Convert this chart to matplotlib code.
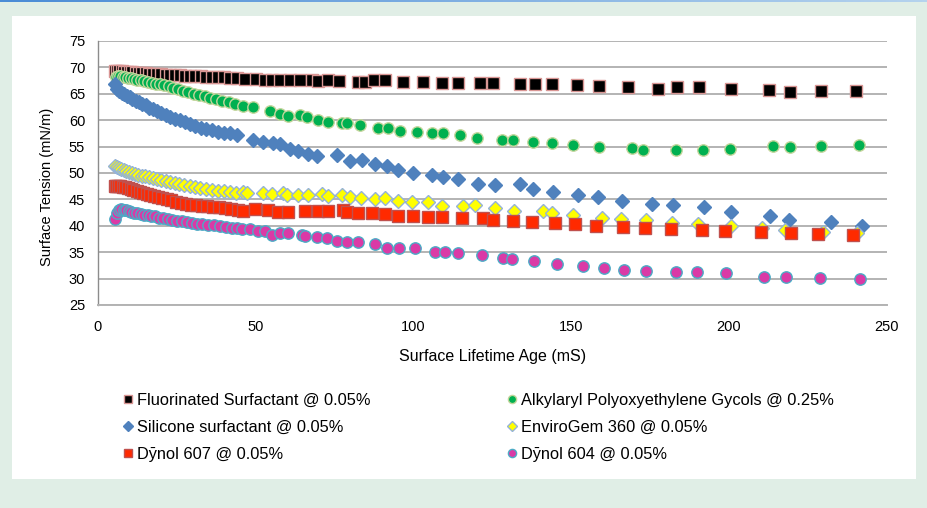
import numpy as np
import matplotlib
matplotlib.use('Agg')
import matplotlib.pyplot as plt
from matplotlib.patches import Rectangle
from matplotlib.colors import LinearSegmentedColormap

plt.rcParams['font.family'] = ['Liberation Sans', 'DejaVu Sans']

# Fluorinated Surfactant @ 0.05%
fluor_x = [5.6, 6.2, 6.9, 7.6, 8.4, 9.2, 10.1, 11.0, 12.0, 13.0, 14.1, 15.2, 16.4, 17.6, 18.9,
           20.2, 21.6, 23.0, 24.5, 26.0, 27.6, 29.2, 30.9, 32.6, 34.4, 36.2, 38.1, 40.0, 42.0, 44.0,
           46.7, 50.3, 53.0, 55.1, 57.8, 60.9, 64.1, 67.8, 69.9, 73.1, 76.3, 82.6, 84.7, 87.4, 91.1,
           96.8, 103.2, 109.0, 114.3, 121.2, 125.4, 133.8, 138.6, 143.9, 151.8,
           158.8, 168.1, 177.5, 183.5, 190.4, 200.7, 212.8, 219.3, 229.1, 240.2]
fluor_y = [69.4, 69.4, 69.3, 69.3, 69.2, 69.2, 69.1, 69.1, 69.0, 69.0, 68.9, 68.9, 68.8, 68.8, 68.7,
           68.7, 68.6, 68.6, 68.5, 68.5, 68.4, 68.4, 68.3, 68.3, 68.2, 68.2, 68.1, 68.1, 68.0, 67.9,
           67.8, 67.8, 67.7, 67.7, 67.7, 67.6, 67.6, 67.6, 67.5, 67.6, 67.5, 67.15, 67.15, 67.6, 67.6,
           67.3, 67.15, 66.97, 66.97, 66.97, 67.1, 66.8, 66.8, 66.85, 66.65,
           66.46, 66.27, 65.95, 66.27, 66.2, 65.95, 65.64, 65.38, 65.57, 65.51]

# Alkylaryl Polyoxyethylene Gycols @ 0.25%
alkyl_x = [5.8, 6.4, 7.1, 7.9, 8.7, 9.6, 10.5, 11.5, 12.5, 13.6, 14.7, 15.9, 17.1, 18.4, 19.7,
           21.1, 22.5, 24.0, 25.5, 27.1, 28.7, 30.4, 32.1, 33.9, 35.7, 37.6, 39.5, 41.5, 43.5,
           46.1, 49.3, 54.6, 57.8, 60.4, 64.1, 66.2, 69.9, 73.1, 77.3, 78.9, 83.1, 88.9, 92.1, 95.8,
           101.1, 105.8, 109.5, 114.8, 120.1, 128.0, 131.7, 138.0, 143.9, 150.7,
           158.8, 169.3, 172.9, 183.2, 191.9, 200.4, 214.0, 219.5, 229.1, 241.1]
alkyl_y = [68.2, 68.3, 68.3, 68.2, 68.1, 68.0, 67.9, 67.8, 67.7, 67.6, 67.4, 67.3, 67.1, 66.9, 66.8,
           66.6, 66.4, 66.1, 65.9, 65.6, 65.3, 65.0, 64.8, 64.5, 64.2, 64.0, 63.7, 63.4, 63.1,
           62.73, 62.54, 61.72, 61.1, 60.78, 60.97, 60.64, 60.02, 59.7, 59.51, 59.51, 59.07, 58.56, 58.56, 57.94,
           57.69, 57.5, 57.5, 57.18, 56.55, 56.23, 56.23, 55.91, 55.61, 55.28,
           54.85, 54.72, 54.4, 54.34, 54.28, 54.58, 55.04, 54.9, 55.04, 55.23]

# Silicone surfactant @ 0.05%
silic_x = [5.6, 6.2, 6.9, 7.6, 8.4, 9.2, 10.1, 11.0, 12.0, 13.0, 14.1, 15.2, 16.4, 17.6, 18.9,
           20.2, 21.6, 23.0, 24.5, 26.0, 27.6, 29.2, 30.9, 32.6, 34.4, 36.2, 38.1, 40.0, 42.0, 44.0,
           49.3, 52.5, 55.6, 57.8, 60.9, 63.6, 66.7, 69.4, 75.7, 79.9, 83.7, 87.9, 91.6, 95.2,
           100.0, 105.8, 109.5, 114.3, 120.6, 125.9, 133.8, 138.0, 144.4, 152.1,
           158.6, 166.1, 175.6, 182.2, 192.2, 200.6, 213.0, 219.0, 232.3, 242.1]
silic_y = [66.8, 66.0, 65.5, 65.2, 64.9, 64.6, 64.3, 64.0, 63.7, 63.4, 63.1, 62.8, 62.4, 62.1, 61.7,
           61.4, 61.0, 60.7, 60.3, 60.0, 59.6, 59.2, 58.9, 58.6, 58.3, 58.1, 57.8, 57.6, 57.5, 57.2,
           56.23, 55.8, 55.6, 55.4, 54.53, 54.15, 53.52, 53.2, 53.39, 52.25, 52.4, 51.75, 51.3, 50.55,
           50.04, 49.6, 49.17, 48.79, 47.9, 47.71, 47.9, 46.89, 46.44, 45.81,
           45.44, 44.73, 44.1, 43.86, 43.6, 42.65, 41.9, 41.14, 40.64, 39.89]

# EnviroGem 360 @ 0.05%
envi_x = [5.5, 6.1, 6.8, 7.5, 8.3, 9.1, 10.0, 10.9, 11.9, 12.9, 14.0, 15.1, 16.3, 17.5, 18.8,
          20.1, 21.5, 22.9, 24.4, 25.9, 27.5, 29.1, 30.8, 32.5, 34.3, 36.1, 38.0, 39.9, 41.9, 43.9,
          46.1, 47.2, 52.5, 55.1, 58.8, 59.9, 63.6, 66.7, 71.0, 73.1, 77.3, 79.9, 83.3, 87.9, 91.0,
          95.2, 99.5, 104.8, 109.0, 115.8, 119.5, 125.9, 131.9, 141.2, 143.9, 150.7,
          159.9, 165.7, 173.7, 182.0, 190.3, 200.8, 210.4, 217.8, 229.9, 240.5]
envi_y = [51.3, 51.1, 50.9, 50.7, 50.5, 50.4, 50.2, 50.0, 49.9, 49.7, 49.5, 49.4, 49.2, 49.1, 48.9,
          48.7, 48.5, 48.3, 48.1, 47.9, 47.7, 47.5, 47.3, 47.1, 46.9, 46.8, 46.6, 46.5, 46.4, 46.3,
          46.32, 46.13, 46.25, 46.0, 46.13, 45.87, 45.87, 45.76, 45.95, 45.68, 45.76, 45.49, 45.25, 45.0, 45.19,
          44.68, 44.55, 44.49, 43.79, 43.79, 43.92, 43.41, 42.84, 42.78, 42.34, 42.02,
          41.52, 41.27, 41.08, 40.45, 40.27, 39.89, 39.62, 39.19, 38.86, 38.56]

# Dynol 607 @ 0.05%
d607_x = [5.4, 5.9, 6.5, 7.2, 7.9, 8.7, 9.5, 10.4, 11.3, 12.3, 13.3, 14.4, 15.5, 16.7, 17.9,
          19.2, 20.5, 21.9, 23.3, 24.8, 26.3, 27.9, 29.5, 31.2, 32.9, 34.7, 36.5, 38.4, 40.3, 42.3, 44.3,
          46.1, 49.8, 54.1, 57.2, 60.4, 65.7, 69.9, 73.1, 77.8, 78.9, 82.6, 86.8, 91.0, 95.2,
          100.0, 104.8, 109.0, 115.3, 122.2, 125.4, 131.7, 137.5, 144.9, 151.2,
          157.8, 166.4, 173.3, 181.7, 191.5, 198.8, 210.2, 219.6, 228.3, 239.4]
d607_y = [47.6, 47.6, 47.5, 47.5, 47.4, 47.3, 47.2, 47.0, 46.8, 46.6, 46.4, 46.2, 46.0, 45.8, 45.6,
          45.4, 45.2, 45.0, 44.8, 44.6, 44.4, 44.2, 44.0, 43.9, 43.8, 43.7, 43.6, 43.5, 43.4, 43.2, 43.0,
          42.84, 43.11, 42.97, 42.65, 42.65, 42.84, 42.78, 42.78, 42.97, 42.54, 42.35, 42.35, 42.22, 41.84,
          41.84, 41.7, 41.59, 41.4, 41.4, 41.08, 40.89, 40.76, 40.45, 40.27,
          39.94, 39.75, 39.62, 39.43, 39.19, 39.05, 38.86, 38.67, 38.37, 38.24]

# Dynol 604 @ 0.05%
d604_x = [5.6, 6.2, 6.8, 7.5, 8.2, 9.0, 9.8, 10.7, 11.6, 12.6, 13.6, 14.7, 15.8, 17.0, 18.2,
          19.5, 20.8, 22.2, 23.6, 25.1, 26.6, 28.2, 29.8, 31.5, 33.2, 35.0, 36.8, 38.7, 40.6, 42.6, 44.0,
          45.6, 48.3, 50.9, 53.0, 55.1, 57.8, 60.4, 64.6, 65.7, 69.4, 72.6, 75.7, 78.9, 82.6, 87.9,
          91.6, 95.6, 100.5, 106.9, 110.0, 114.3, 121.7, 128.5, 131.2, 138.2, 145.4, 153.9,
          160.4, 166.8, 173.7, 183.1, 189.9, 199.2, 211.0, 218.0, 228.8, 241.6]
d604_y = [41.3, 42.5, 42.9, 43.1, 43.0, 42.9, 42.8, 42.6, 42.5, 42.4, 42.3, 42.1, 42.0, 41.9, 41.8,
          41.5, 41.4, 41.3, 41.1, 41.0, 40.9, 40.7, 40.6, 40.4, 40.3, 40.2, 40.1, 40.0, 39.8, 39.6, 39.5,
          39.32, 39.32, 39.0, 39.05, 38.24, 38.56, 38.56, 38.24, 38.05, 37.8, 37.61, 37.1, 36.97, 36.97, 36.53,
          35.72, 35.72, 35.72, 35.08, 34.96, 34.77, 34.45, 33.83, 33.64, 33.31, 32.69, 32.37,
          32.05, 31.55, 31.42, 31.29, 31.29, 31.04, 30.34, 30.23, 30.09, 29.9]

labels = ['Fluorinated Surfactant @ 0.05%', 'Alkylaryl Polyoxyethylene Gycols @ 0.25%',
          'Silicone surfactant @ 0.05%', 'EnviroGem 360 @ 0.05%',
          'D\u0233nol 607 @ 0.05%', 'D\u0233nol 604 @ 0.05%']

fig = plt.figure(figsize=(9.27, 5.08), dpi=100)
fig.patch.set_facecolor('#E0EEE6')

# white panel behind everything
fig.patches.append(Rectangle((12 / 927, 1 - 479 / 508), 904 / 927, 463 / 508,
                             transform=fig.transFigure, facecolor='white', edgecolor='none', zorder=-10))

# thin blue band at the top
bar = fig.add_axes([0, 1 - 2.5 / 508, 1, 2.5 / 508])
cmap = LinearSegmentedColormap.from_list('topbar', ['#4A8CD6', '#B5D3EE'])
bar.imshow(np.linspace(0, 1, 256).reshape(1, -1), aspect='auto', cmap=cmap)
bar.axis('off')

ax = fig.add_axes([97.7 / 927, 1 - 305 / 508, 789 / 927, 264 / 508])
ax.patch.set_alpha(0)

series = [
    (fluor_x, fluor_y, 's', 8.0, 'black', '#D99694'),
    (alkyl_x, alkyl_y, 'o', 8.2, '#00B050', '#C3D69B'),
    (silic_x, silic_y, 'D', 7.2, '#4F81BD', '#4F81BD'),
    (envi_x, envi_y, 'D', 7.2, '#FFFF00', '#95B3D7'),
    (d607_x, d607_y, 's', 8.0, '#FF2A00', '#C0504D'),
    (d604_x, d604_y, 'o', 8.2, '#DA3AA6', '#4BACC6'),
]
handles = []
for i, (xs, ys, m, ms, fc, ec) in enumerate(series):
    h, = ax.plot(xs, ys, linestyle='none', marker=m, markersize=ms, markerfacecolor=fc,
                 markeredgecolor=ec, markeredgewidth=1.0, label=labels[i], zorder=3 + i)
    handles.append(h)

ax.set_xlim(0, 250)
ax.set_ylim(25, 75)
ax.set_xticks(np.arange(0, 251, 50))
ax.set_yticks(np.arange(25, 76, 5))
ax.yaxis.grid(True, color='#B3B3B3', linewidth=1.4)
ax.set_axisbelow(True)
for s in ['top', 'right']:
    ax.spines[s].set_visible(False)
ax.spines['bottom'].set_color('#B3B3B3')
ax.spines['bottom'].set_linewidth(1.4)
ax.spines['left'].set_color('#8C8C8C')
ax.spines['left'].set_linewidth(1.0)
ax.tick_params(axis='both', length=0, labelsize=10.5, colors='black')
ax.tick_params(axis='y', pad=9)
ax.tick_params(axis='x', pad=11)

ax.set_xlabel('Surface Lifetime Age (mS)', fontsize=11.5)
ax.xaxis.set_label_coords(0.5, -0.165)
ax.set_ylabel('Surface Tension (mN/m)', fontsize=10.5)
ax.yaxis.set_label_coords(-0.056, 0.447)

leg_kw = dict(frameon=False, fontsize=11.8, handlelength=0.6, handletextpad=0.25,
              labelspacing=0.72, borderpad=0, borderaxespad=0, markerscale=0.72)
fig.legend([handles[0], handles[2], handles[4]], [labels[0], labels[2], labels[4]],
           loc='upper left', bbox_to_anchor=(123 / 927, 1 - 393 / 508), **leg_kw)
fig.legend([handles[1], handles[3], handles[5]], [labels[1], labels[3], labels[5]],
           loc='upper left', bbox_to_anchor=(507 / 927, 1 - 393 / 508), **leg_kw)

fig.savefig('out.png', dpi=100, facecolor=fig.get_facecolor())
